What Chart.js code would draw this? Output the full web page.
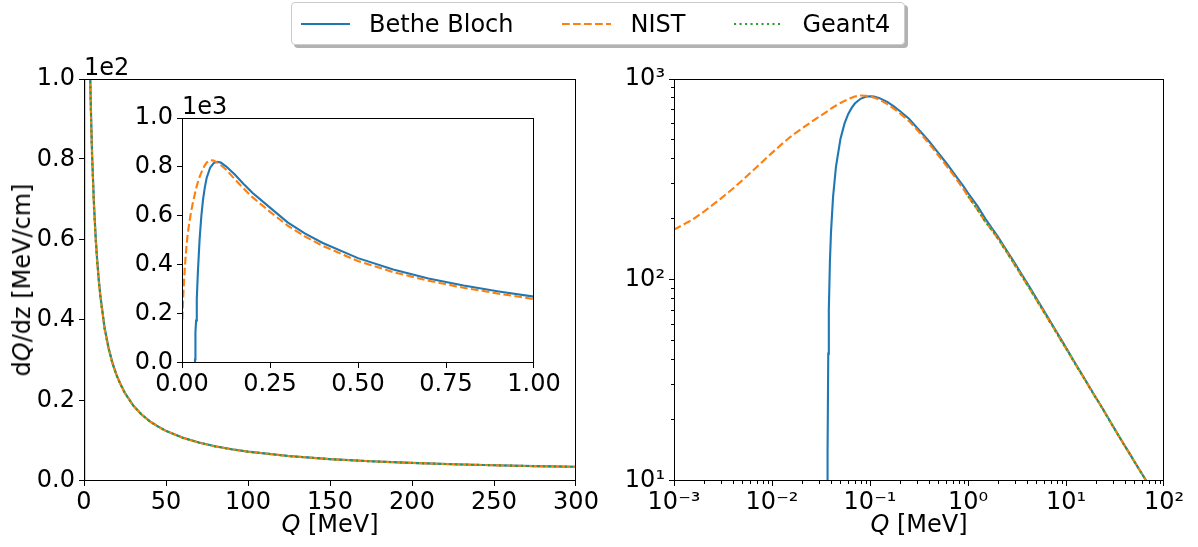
<!DOCTYPE html>
<html><head><meta charset="utf-8">
<script src="https://cdn.jsdelivr.net/npm/chart.js@4.4.1/dist/chart.umd.min.js"></script>
<style>
html,body{margin:0;padding:0;background:#fff;}
#wrap{position:relative;width:1198px;height:547px;overflow:hidden;font-family:"DejaVu Sans";background:#fff;}
canvas{position:absolute;left:0;top:0;}
.t{position:absolute;font-size:24px;line-height:1;color:#000;white-space:nowrap;font-family:"DejaVu Sans";}
#legend{position:absolute;left:291px;top:2px;height:43px;box-sizing:border-box;border:1px solid #cccccc;border-radius:4px;background:#fff;box-shadow:3px 3px 0 rgba(0,0,0,0.3);display:flex;align-items:center;padding:0 14px 0 9px;font-size:24px;line-height:1;font-family:"DejaVu Sans";white-space:nowrap;}
#legend svg{display:block;flex:none;}
</style></head>
<body><div id="wrap">
<canvas id="cMain" width="1198" height="547"></canvas>
<canvas id="cInset" width="1198" height="547"></canvas>
<canvas id="cLog" width="1198" height="547"></canvas>
<div id="legend"></div>
<div class="t" id="yTitle" style="left:22px;top:280px;transform:translate(-50%,-50%) rotate(-90deg);">d<i>Q</i>/dz [MeV/cm]</div>
<div class="t" id="xTitle1" style="left:330px;top:512px;transform:translateX(-50%);"><i>Q</i> [MeV]</div>
<div class="t" id="xTitle2" style="left:919px;top:512px;transform:translateX(-50%);"><i>Q</i> [MeV]</div>
<div class="t" id="off1" style="left:84px;top:55px;">1e2</div>
<div class="t" id="off2" style="left:182px;top:94px;">1e3</div>
</div>
<script>
// ---------------- data ----------------
const seriesNames = ['Bethe Bloch', 'NIST', 'Geant4'];
const seriesColors = ['#1f77b4', '#ff7f0e', '#2ca02c'];

// Q [MeV] and dQ/dz [MeV/cm]
const qBethe = [0.0367,0.0368,0.037,0.0375,0.038,0.039,0.04,0.042,0.045,0.05,0.055,0.06,0.065,0.07,0.08,0.09,0.1,0.11,0.125,0.15,0.175,0.2,0.25,0.3,0.35,0.4,0.5,0.6,0.7,0.8,0.9,1,1.25,1.5,1.75,2,2.5,3,3.5,4,4.5,5,6,7,8,9,10,12.5,15,17.5,20,22.5,25,30,35,40,45,50,60,70,80,90,100,125,150,175,200,225,250,275,300];
const betheValues = [0,2,14,43,71,124,173,260,368,505,601,670,718,755,797,816,821,818,803,769,731,695,634,574,528,490,428,382,345,316,292,271,233,202,181,165.5,139.5,121.5,107.5,96.8,88,80.8,69.8,61.6,55.3,50.2,46.1,38.3,33.1,29.2,26.2,23.9,21.9,18.82,16.6,14.91,13.6,12.47,10.8,9.57,8.63,7.9,7.3,6.2,5.45,4.91,4.5,4.18,3.92,3.71,3.53];

const qNist = [0.001,0.0015,0.002,0.0025,0.003,0.004,0.005,0.006,0.007,0.008,0.009,0.01,0.0125,0.015,0.0175,0.02,0.025,0.03,0.035,0.04,0.045,0.05,0.06,0.07,0.08,0.09,0.1,0.11,0.125,0.15,0.175,0.2,0.25,0.3,0.35,0.4,0.5,0.6,0.7,0.8,0.9,1,1.25,1.5,1.75,2,2.5,3,3.5,4,4.5,5,6,7,8,9,10,12.5,15,17.5,20,22.5,25,30,35,40,45,50,60,70,80,90,100,125,150,175,200,225,250,275,300];
const nistValues = [178,198,218,237,254,285,314,341,365,388,409,429,473,510,540,565,610,648,680,712,738,760,795,818,828,826,818,808,790,750,712,677,617,561,516,478,416,371,336,307,283,261,224,195,177,162,137,119,105.5,95,86.6,79.6,68.8,60.8,54.6,49.6,45.7,38,32.9,29,26.07,23.8,21.8,18.76,16.56,14.88,13.57,12.45,10.78,9.56,8.62,7.89,7.29,6.19,5.44,4.9,4.49,4.17,3.91,3.7,3.52];

const qGeant4 = [1,1.25,1.5,1.75,2,2.5,3,3.5,4,4.5,5,6,7,8,9,10,12.5,15,17.5,20,22.5,25,30,35,40,45,50,60,70,80,90,100,125,150,175,200,225,250,275,300];
const geant4Values = [261,224,195,177,162,137,119,105.5,95,86.6,79.6,68.8,60.8,54.6,49.6,45.7,38,32.9,29,26.07,23.8,21.8,18.76,16.56,14.88,13.57,12.45,10.78,9.56,8.62,7.89,7.29,6.19,5.44,4.9,4.49,4.17,3.91,3.7,3.52];

// tick values and labels
const mainXTicks = [0,50,100,150,200,250,300];
const mainXLabels = ['0','50','100','150','200','250','300'];
const mainYTicks = [0,20,40,60,80,100];
const mainYLabels = ['0.0','0.2','0.4','0.6','0.8','1.0'];
const insetXTicks = [0,0.25,0.5,0.75,1];
const insetXLabels = ['0.00','0.25','0.50','0.75','1.00'];
const insetYTicks = [0,200,400,600,800,1000];
const insetYLabels = ['0.0','0.2','0.4','0.6','0.8','1.0'];
const logXMajor = [1e-3,1e-2,1e-1,1,10,100];
const logXLabels = ['10\u207B\u00B3','10\u207B\u00B2','10\u207B\u00B9','10\u2070','10\u00B9','10\u00B2'];
const logYMajor = [10,100,1000];
const logYLabels = ['10\u00B9','10\u00B2','10\u00B3'];

// ---------------- helpers ----------------
const FONT = 'DejaVu Sans';
Chart.defaults.font.family = FONT;
Chart.defaults.font.size = 24;
Chart.defaults.color = '#000';

function pts(xs, ys){ return xs.map((x,i)=>({x:x, y:ys[i]})); }

function makeDatasets(){
  const lw = 2.1;
  return [
    {label:seriesNames[0], data:pts(qBethe,betheValues), borderColor:seriesColors[0], borderWidth:lw, pointRadius:0, order:3, clip:0, tension:0},
    {label:seriesNames[1], data:pts(qNist,nistValues), borderColor:seriesColors[1], borderWidth:lw, borderDash:[7.7,3.3], pointRadius:0, order:2, clip:0, tension:0},
    {label:seriesNames[2], data:pts(qGeant4,geant4Values), borderColor:seriesColors[2], borderWidth:lw, borderDash:[2.1,3.4], pointRadius:0, order:1, clip:0, tension:0}
  ];
}

function linTicks(values){ return values.map(v=>({value:v, major:true})); }
function logTicks(majors){
  const out = [];
  for (let i=0;i<majors.length;i++){
    const v = majors[i];
    out.push({value:v, major:true});
    if (i < majors.length-1){
      for (let m=2;m<10;m++) out.push({value:m*v, major:false});
    }
  }
  return out;
}

function axis(type, min, max, tickList, labelOf, fitSize, isX){
  return {
    type:type, min:min, max:max, bounds:'data',
    afterBuildTicks: s => { s.ticks = tickList.map(t=>({value:t.value, major:t.major})); },
    afterFit: s => { if (isX) s.height = fitSize; else s.width = fitSize; },
    ticks:{autoSkip:false, maxRotation:0, minRotation:0, padding: isX ? 2 : 4,
      font:{family:FONT, size:24}, color:'#000',
      callback:(v,i,ts)=> labelOf(ts[i] ? ts[i].value : v)},
    grid:{display:true, drawOnChartArea:false, drawTicks:true, tickLength:5, tickColor:'rgba(0,0,0,0)'},
    border:{display:false}
  };
}

function labelFrom(values, labels){
  return v => { for (let i=0;i<values.length;i++){ if (Math.abs(v-values[i]) <= 1e-9*Math.max(1,Math.abs(values[i]))) return labels[i]; } return ''; };
}

const framePlugin = {
  id:'frame',
  beforeDraw(chart, args, opts){
    if (opts.fillWhite){
      const a = chart.chartArea, c = chart.ctx;
      c.save(); c.fillStyle = '#fff'; c.fillRect(a.left, a.top, a.right-a.left, a.bottom-a.top); c.restore();
    }
  },
  afterDraw(chart){
    const a = chart.chartArea, c = chart.ctx;
    c.save();
    c.strokeStyle = '#000'; c.lineWidth = 1;
    const xs = chart.scales.x, ys = chart.scales.y;
    c.beginPath();
    xs.ticks.forEach(t=>{ const p = Math.round(xs.getPixelForValue(t.value)) + 0.5 - (t.value===xs.max?1:0); const L = t.major?5:3; c.moveTo(p, a.bottom); c.lineTo(p, a.bottom+L); });
    ys.ticks.forEach(t=>{ const p = Math.round(ys.getPixelForValue(t.value)) - 0.5 + (t.value===ys.max?1:0); const L = t.major?5:3; c.moveTo(a.left, p); c.lineTo(a.left-L, p); });
    c.stroke();
    c.strokeRect(a.left+0.5, a.top+0.5, a.right-a.left-1, a.bottom-a.top-1);
    c.restore();
  }
};

function makeChart(id, xAxis, yAxis, padding, fillWhite){
  return new Chart(document.getElementById(id), {
    type:'line',
    data:{datasets:makeDatasets()},
    options:{
      responsive:false, maintainAspectRatio:false, animation:false, devicePixelRatio:1,
      parsing:false, normalized:true,
      layout:{padding:padding},
      plugins:{legend:{display:false}, tooltip:{enabled:false}, frame:{fillWhite:fillWhite}},
      events:[],
      scales:{x:xAxis, y:yAxis}
    },
    plugins:[framePlugin]
  });
}

function buildLegend(){
  const lg = document.getElementById('legend');
  const dashes = ['', '7.7 3.3', '2.1 3.4'];
  seriesNames.forEach((n,i)=>{
    const svgNS = 'http://www.w3.org/2000/svg';
    const svg = document.createElementNS(svgNS,'svg');
    svg.setAttribute('width','49'); svg.setAttribute('height','10');
    if (i>0) svg.style.marginLeft = '49px';
    const ln = document.createElementNS(svgNS,'line');
    ln.setAttribute('x1','0'); ln.setAttribute('x2','49'); ln.setAttribute('y1','5'); ln.setAttribute('y2','5');
    ln.setAttribute('stroke', seriesColors[i]); ln.setAttribute('stroke-width','2.1');
    if (dashes[i]) ln.setAttribute('stroke-dasharray', dashes[i]);
    svg.appendChild(ln);
    lg.appendChild(svg);
    const sp = document.createElement('span');
    sp.textContent = n; sp.style.marginLeft = '19px';
    lg.appendChild(sp);
  });
}

function init(){
  buildLegend();
  makeChart('cMain',
    axis('linear', 0, 300, linTicks(mainXTicks), labelFrom(mainXTicks, mainXLabels), 66, true),
    axis('linear', 0, 100, linTicks(mainYTicks), labelFrom(mainYTicks, mainYLabels), 84, false),
    {left:0, top:79, right:1198-576, bottom:0}, false);
  makeChart('cInset',
    axis('linear', 0, 1, linTicks(insetXTicks), labelFrom(insetXTicks, insetXLabels), 40, true),
    axis('linear', 0, 1000, linTicks(insetYTicks), labelFrom(insetYTicks, insetYLabels), 60, false),
    {left:182-60, top:118, right:1198-534, bottom:547-363-40}, true);
  makeChart('cLog',
    axis('logarithmic', 1e-3, 1e2, logTicks(logXMajor), labelFrom(logXMajor, logXLabels), 66, true),
    axis('logarithmic', 10, 1000, logTicks(logYMajor), labelFrom(logYMajor, logYLabels), 80, false),
    {left:674-80, top:79, right:1198-1164, bottom:0}, false);
}
if (document.fonts && document.fonts.ready) document.fonts.ready.then(init); else init();
</script>
</body></html>
